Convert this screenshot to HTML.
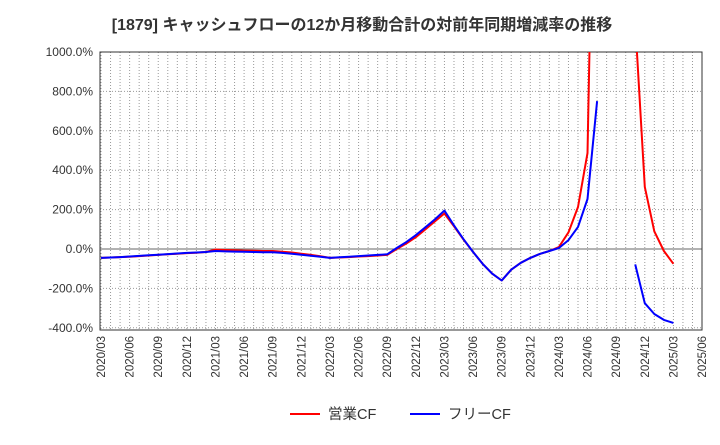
<!DOCTYPE html>
<html><head><meta charset="utf-8"><style>
body{margin:0;background:#fff;font-family:"Liberation Sans","Noto Sans CJK JP",sans-serif}
</style></head><body>
<svg id="c" width="720" height="440" xmlns="http://www.w3.org/2000/svg" font-family="Liberation Sans, Noto Sans CJK JP, sans-serif">
<text x="362" y="30" text-anchor="middle" font-size="16" font-weight="bold" fill="#333">[1879]  キャッシュフローの12か月移動合計の対前年同期増減率の推移</text>
<defs><clipPath id="pc"><rect x="100" y="52" width="602" height="278"/></clipPath></defs>
<g id="grid"></g><g id="axes"></g><g id="series" clip-path="url(#pc)"></g>
<g>
<line x1="290" y1="414" x2="320" y2="414" stroke="#f00" stroke-width="2"/>
<text x="328" y="419" font-size="14.5" fill="#333">営業CF</text>
<line x1="410" y1="414" x2="440" y2="414" stroke="#00f" stroke-width="2"/>
<text x="448" y="419" font-size="14.5" fill="#333">フリーCF</text>
</g>
</svg>
<script>
const yTicks=[1000,800,600,400,200,0,-200,-400];
const yTickLabels=["1000.0%","800.0%","600.0%","400.0%","200.0%","0.0%","-200.0%","-400.0%"];
const xTickLabels=["2020/03","2020/06","2020/09","2020/12","2021/03","2021/06","2021/09","2021/12","2022/03","2022/06","2022/09","2022/12","2023/03","2023/06","2023/09","2023/12","2024/03","2024/06","2024/09","2024/12","2025/03","2025/06"];
const operatingCF=[-45,-43,-41,-39,-36,-33,-30,-27,-24,-21,-19,-15,-3,-5,-6,-8,-9,-10,-10,-14,-18,-24,-30,-37,-45,-43,-41,-38,-36,-33,-30,0,28,60,100,140,180,115,48,-15,-75,-125,-160,-105,-70,-45,-25,-10,10,85,213,487,3000,null,null,null,1150,315,90,-10,-75];
const freeCF=[-45,-43,-41,-38,-35,-32,-29,-26,-23,-20,-18,-15,-10,-12,-13,-14,-15,-16,-17,-20,-24,-29,-34,-39,-45,-42,-39,-36,-33,-30,-27,5,35,70,110,150,195,120,50,-15,-75,-125,-160,-105,-70,-45,-25,-10,5,45,112,254,751,null,null,null,-78,-275,-330,-360,-375];
const NS="http://www.w3.org/2000/svg";
const X0=101,DX=9.54,Y0=249,KY=0.197;
const xs=i=>X0+i*DX, ys=v=>Y0-v*KY;
function mk(t,a,p){const e=document.createElementNS(NS,t);for(const k in a)e.setAttribute(k,a[k]);p.appendChild(e);return e;}
const grid=document.getElementById('grid'),axes=document.getElementById('axes'),ser=document.getElementById('series');
for(let m=0;m<=63;m++){const l=mk('line',{x1:xs(m),x2:xs(m),y1:52,y2:330,stroke:'#999','stroke-width':1,'stroke-dasharray':'1,2'},grid);
}
yTicks.forEach((v,i)=>{const l=mk('line',{x1:100,x2:702,y1:ys(v),y2:ys(v),stroke:v===0?'#666':'#999','stroke-width':1,'stroke-dasharray':v===0?'none':'1,2'},grid);

const t=mk('text',{x:93,y:ys(v)+4,'text-anchor':'end','font-size':12,fill:'#333'},axes);t.textContent=yTickLabels[i];
});
xTickLabels.forEach((s,i)=>{const x=xs(i*3);const t=mk('text',{transform:`translate(${x+4},336) rotate(-90)`,'text-anchor':'end','font-size':11.5,fill:'#333'},axes);t.textContent=s;
});
const fr=mk('rect',{x:100,y:52,width:602,height:278,fill:'none',stroke:'#333','stroke-width':1},axes);

function line(data,color,name){let d='',pen=false;data.forEach((v,i)=>{if(v===null){pen=false;return;}d+=(pen?'L':'M')+xs(i).toFixed(1)+','+ys(v).toFixed(1);pen=true;});
const p=mk('path',{d:d,fill:'none',stroke:color,'stroke-width':2,'stroke-linejoin':'round'},ser);
}
line(operatingCF,'#f00','operating-cf-line');
line(freeCF,'#00f','free-cf-line');
</script>
</body></html>
